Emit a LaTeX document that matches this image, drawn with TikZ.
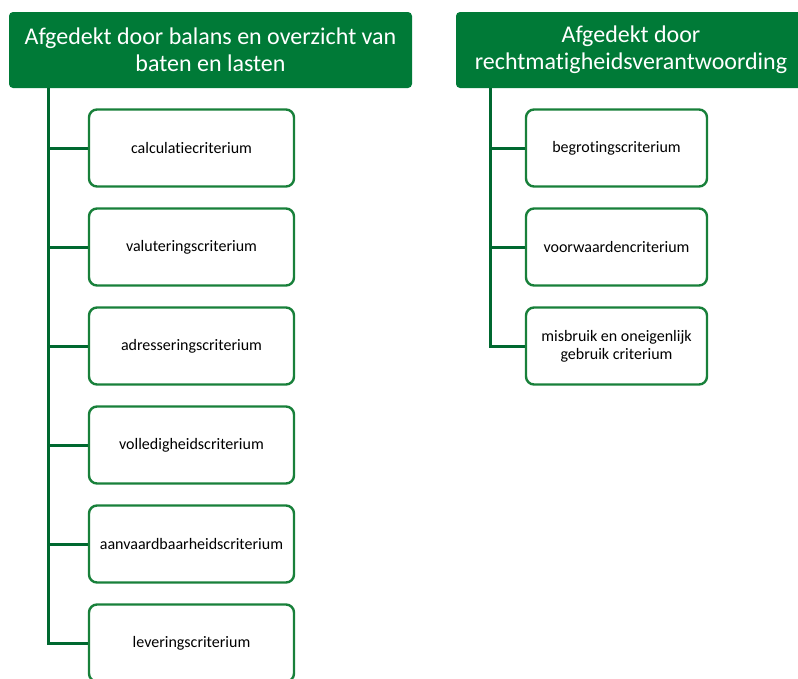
\documentclass[tikz,border=0pt]{standalone}
\usepackage{fontspec}
\setmainfont{Carlito}[Ligatures=CommonOff]
\usepackage{xcolor}
\usepackage{tikz}

\definecolor{kopgroen}{RGB}{0,122,55}
\definecolor{randgroen}{RGB}{24,128,58}
\definecolor{stamgroen}{RGB}{0,104,48}

\begin{document}
\begin{tikzpicture}[x=1pt, y=-1pt,
    kop/.style={fill=kopgroen, rounded corners=4pt, text=white, align=center,
        font=\fontsize{24}{27}\selectfont, minimum height=76pt, inner sep=2pt},
    crit/.style={draw=randgroen, line width=2.4pt, rounded corners=8pt, fill=white,
        align=center, font=\fontsize{16}{18}\selectfont, minimum height=77pt},
    stam/.style={draw=stamgroen, line width=3pt}]
    \useasboundingbox (0,0) rectangle (798,678);

    % Headers
    \node[kop, minimum width=403pt] (kopL) at (210.5,50) {Afgedekt door balans en overzicht van\\baten en lasten};
    \node[kop, minimum width=350pt] (kopR) at (631,50) {Afgedekt door\\rechtmatigheidsverantwoording};
    \coordinate (stamL) at (48,88);
    \coordinate (stamR) at (490,88);

    % Left column
    \foreach \naam [count=\i] in {calculatiecriterium, valuteringscriterium, adresseringscriterium,
        volledigheidscriterium, aanvaardbaarheidscriterium, leveringscriterium} {
        \node[crit, minimum width=205pt] (L\i) at (191.5,49+\i*99) {\naam};
        \draw[stam] (stamL) |- (L\i.west);
    }

    % Right column
    \foreach \naam [count=\i] in {begrotingscriterium, voorwaardencriterium,
        {misbruik en oneigenlijk\\gebruik criterium}} {
        \node[crit, minimum width=181pt] (R\i) at (616.5,49+\i*99) {\naam};
        \draw[stam] (stamR) |- (R\i.west);
    }
\end{tikzpicture}
\end{document}
